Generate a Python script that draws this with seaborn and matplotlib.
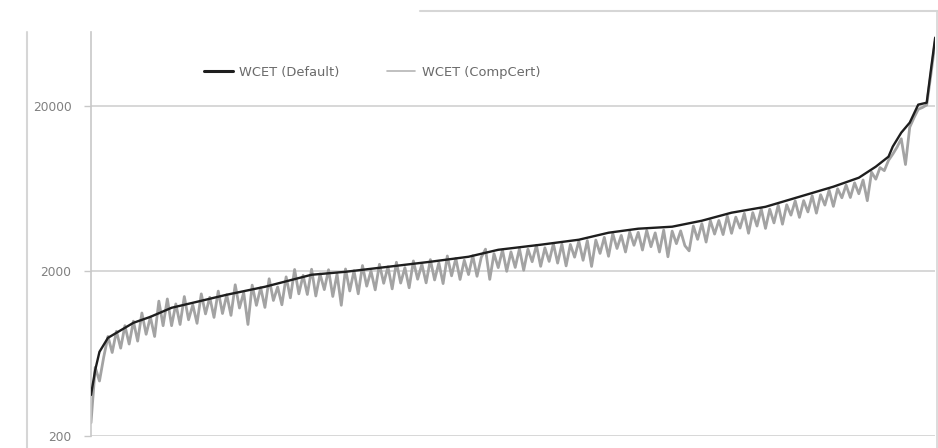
import numpy as np
import pandas as pd
import seaborn as sns
import matplotlib.pyplot as plt
from matplotlib.lines import Line2D

# ----------------------------------------
# Data (benchmarks sorted by default WCET)
# ----------------------------------------

# WCET (Default): smooth sorted curve, given at a set of benchmark indices
default_idx = [0, 1, 2, 4, 6, 10, 14, 19, 25, 32, 41, 52, 60, 70, 80, 89,
               96, 106, 115, 122, 129, 137, 144, 151, 159, 167, 175, 181,
               185, 188, 189, 191, 193, 195, 197, 198, 199]
default_wcet = [354, 502, 646, 785, 842, 968, 1052, 1194, 1298, 1432, 1600,
                1892, 1972, 2114, 2268, 2432, 2680, 2876, 3084, 3400, 3596,
                3698, 4020, 4496, 4880, 5614, 6460, 7320, 8540, 9820, 11300,
                13720, 15780, 20280, 20840, 33060, 51660]

# WCET (CompCert): noisy series, one value per benchmark index 0..199
compcert_wcet = [
    240, 520, 430, 600, 800, 640, 860, 680, 930, 720,
    990, 750, 1110, 825, 1050, 800, 1310, 930, 1350, 930,
    1260, 946, 1396, 1010, 1243, 961, 1449, 1096, 1382, 1044,
    1506, 1102, 1432, 1074, 1645, 1190, 1477, 946, 1637, 1235,
    1581, 1200, 1789, 1322, 1595, 1245, 1837, 1372, 2036, 1450,
    1876, 1437, 2043, 1407, 1912, 1538, 2029, 1398, 1913, 1236,
    2051, 1509, 2000, 1451, 2151, 1614, 1995, 1533, 2190, 1680,
    2114, 1554, 2252, 1685, 2089, 1578, 2294, 1778, 2192, 1690,
    2336, 1760, 2235, 1673, 2458, 1864, 2377, 1772, 2317, 1897,
    2467, 1852, 2411, 2703, 1774, 2539, 2090, 2673, 1985, 2602,
    2096, 2722, 2015, 2704, 2270, 2856, 2128, 2754, 2279, 2916,
    2226, 2902, 2141, 2886, 2418, 3022, 2315, 3047, 2125, 3069,
    2549, 3187, 2448, 3359, 2730, 3275, 2599, 3434, 2854, 3416,
    2671, 3513, 2798, 3392, 2599, 3526, 2432, 3476, 2920, 3487,
    2839, 2640, 3732, 3100, 3859, 2984, 4031, 3337, 4034, 3314,
    4295, 3372, 4226, 3628, 4454, 3375, 4499, 3732, 4735, 3611,
    4723, 3899, 5000, 3830, 5019, 4345, 5301, 4211, 5320, 4544,
    5694, 4467, 5774, 4999, 6163, 4910, 6273, 5533, 6614, 5556,
    6818, 5856, 7091, 5313, 7906, 7174, 8429, 8078, 9329, 10170,
    11200, 12600, 8800, 14800, 16900, 19000, 19500, 20200, 31000, 49000,
]

y_ticks = [200, 2000, 20000]
y_tick_labels = ["200", "2000", "20000"]
series_names = ["WCET (Default)", "WCET (CompCert)"]

default_df = pd.DataFrame({"bench": default_idx, "wcet": default_wcet})
compcert_df = pd.DataFrame({"bench": np.arange(len(compcert_wcet)), "wcet": compcert_wcet})

# ----------------------------------------
# Plot
# ----------------------------------------
sns.set_theme(style="white")
plt.rcParams['font.family'] = ['DejaVu Sans']

fig = plt.figure(figsize=(9.38, 4.48), dpi=100)
ax = fig.add_axes([0.097, 0.027, 0.9, 0.902])

sns.lineplot(data=compcert_df, x="bench", y="wcet", ax=ax, color="#a3a3a3",
             linewidth=2.0, zorder=2)
sns.lineplot(data=default_df, x="bench", y="wcet", ax=ax, color="#1e1e1e",
             linewidth=1.7, zorder=3)

ax.set_yscale("log")
ax.set_ylim(200, 56000)
ax.set_xlim(0, len(compcert_wcet) - 1)
ax.set_yticks(y_ticks)
ax.set_yticklabels(y_tick_labels)
ax.minorticks_off()
ax.set_xticks([])
ax.set_xlabel("")
ax.set_ylabel("")
ax.tick_params(axis="y", length=5, width=1, color="#c8c8c8", pad=9,
               labelsize=8.8, labelcolor="#808080", left=True)

ax.yaxis.grid(True, color="#d4d4d4", linewidth=1.3)
ax.set_axisbelow(True)
for side in ["top", "right", "bottom"]:
    ax.spines[side].set_visible(False)
ax.spines["left"].set_color("#c8c8c8")
ax.spines["left"].set_linewidth(1.2)

# legend across the top
handles = [Line2D([], [], color="#1e1e1e", linewidth=2.2),
           Line2D([], [], color="#b5b5b5", linewidth=1.2)]
ax.legend(handles, series_names, loc="center left", bbox_to_anchor=(0.12, 0.90),
          ncol=2, frameon=False, fontsize=9.4, labelcolor="#6a6a6a",
          handlelength=2.2, handletextpad=0.5, columnspacing=3.6)

# pieces of the surrounding chart frame
frame_color = "#d6d6d6"
fig.add_artist(Line2D([27 / 938, 27 / 938], [0, 1 - 32 / 448], color=frame_color,
                      linewidth=1.5, transform=fig.transFigure))
fig.add_artist(Line2D([420 / 938, 1], [1 - 11 / 448, 1 - 11 / 448], color=frame_color,
                      linewidth=1.5, transform=fig.transFigure))
fig.add_artist(Line2D([937 / 938, 937 / 938], [0, 1 - 11 / 448], color=frame_color,
                      linewidth=1.2, transform=fig.transFigure))

fig.savefig("out.png", dpi=100)
